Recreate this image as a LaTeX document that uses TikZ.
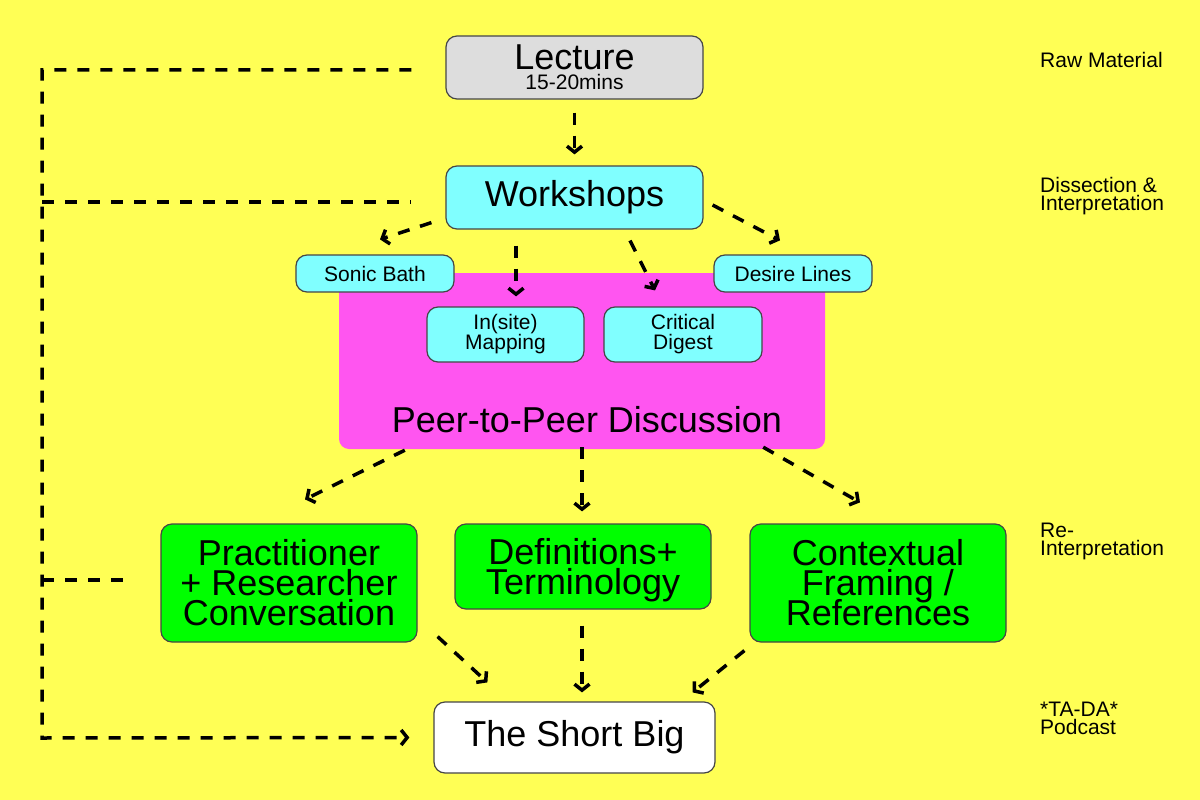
\documentclass[tikz,border=0pt]{standalone}
\usepackage{fontspec}
\setmainfont{Liberation Sans}
\usetikzlibrary{arrows.meta}

\definecolor{bgyellow}{RGB}{255,255,85}
\definecolor{boxgray}{RGB}{221,221,221}
\definecolor{boxcyan}{RGB}{128,255,255}
\definecolor{boxpink}{RGB}{255,85,240}
\definecolor{boxgreen}{RGB}{0,255,0}
\definecolor{edgegray}{RGB}{70,70,70}

% font size + tight line spacing
\newcommand{\fsz}[2]{\fontsize{#1}{#2}\selectfont\lineskiplimit=-100pt}

\begin{document}
\begin{tikzpicture}[x=1pt,y=-1pt,
  box/.style={draw=edgegray, line width=1.2pt, rounded corners=11pt, inner sep=0pt, align=center},
  big/.style={box, font=\fsz{36}{30}},
  small/.style={box, fill=boxcyan, font=\fsz{21}{20}, minimum height=37pt},
  dline/.style={line width=3.5pt, dash pattern=on 12pt off 11pt},
  flow/.style={dline, -{Straight Barb[length=6pt,width=15pt]}},
  side/.style={anchor=north west, inner sep=0pt, align=left, font=\fsz{21}{18}}]

  \fill[bgyellow] (0,0) rectangle (1200,800);
  \useasboundingbox (0,0) rectangle (1200,800);

  % discussion area
  \node (peer) [fill=boxpink, rounded corners=10pt, minimum width=486pt, minimum height=176pt] at (582,361) {};
  \node (peerlbl) [anchor=base, font=\fsz{36}{30}] at (587,432) {Peer-to-Peer Discussion};

  \node (lecture) [big, fill=boxgray, font=\fsz{36}{20}, minimum width=257pt, minimum height=63pt] at (574.5,67.5) {Lecture\\{\fsz{21}{20}15-20mins}};
  \node (workshops) [big, fill=boxcyan, minimum width=257pt, minimum height=63pt] at (574.5,197.5) {Workshops};

  \node (sonic) [small, minimum width=158pt] at (375,273.5) {Sonic Bath};
  \node (desire) [small, minimum width=158pt] at (793,273.5) {Desire Lines};
  \node (insite) [small, minimum width=157pt, minimum height=55pt] at (505.5,334.5) {In(site)\\Mapping};
  \node (critical) [small, minimum width=158pt, minimum height=55pt] at (683,334.5) {Critical\\Digest};

  \node (practitioner) [big, fill=boxgreen, minimum width=256pt, minimum height=118pt] at (289,583) {Practitioner\\+ Researcher\\Conversation};
  \node (definitions) [big, fill=boxgreen, minimum width=256pt, minimum height=85pt] at (583,566.5) {\rule{0pt}{34pt}Definitions+\\Terminology};
  \node (contextual) [big, fill=boxgreen, minimum width=256pt, minimum height=118pt] at (878,583) {Contextual\\Framing /\\References};

  \node (shortbig) [big, fill=white, minimum width=281pt, minimum height=71pt] at (574.5,737.5) {The Short Big};

  % stage labels
  \node (raw) [side] at (1040,52) {Raw Material};
  \node (dissect) [side] at (1040,177) {Dissection \&\\Interpretation};
  \node (reint) [side] at (1040,523) {Re-\\Interpretation};
  \node (podcast) [side] at (1040,702) {*TA-DA*\\Podcast};

  % arrows
  \draw[flow, shorten <=13pt, shorten >=11pt] (lecture) -- (workshops);
  \draw[flow] ([shift={(-14,-7)}]workshops.south west) -- ([shift={(5,-15)}]sonic.north);
  \draw[flow] ([shift={(-58.5,16)}]workshops.south) -- ([shift={(10.5,-10)}]insite.north);
  \draw[flow] ([shift={(55.5,11)}]workshops.south) -- ([shift={(-28,-16)}]critical.north);
  \draw[flow] ([shift={(9,7.5)}]workshops.east) -- ([shift={(-13,-14)}]desire.north);

  \draw[flow] ([shift={(66,1)}]peer.south west) -- ([shift={(16,-24)}]practitioner.north);
  \draw[flow] ([shift={(0,-2)}]peer.south) -- ([shift={(-1,-12)}]definitions.north);
  \draw[flow] ([shift={(-62,-2)}]peer.south east) -- ([shift={(-18,-21)}]contextual.north);

  \draw[flow] ([shift={(20,-6)}]practitioner.south east) -- ([shift={(54,-19)}]shortbig.north west);
  \draw[flow] ([shift={(-1,16)}]definitions.south) -- ([shift={(7.5,-9)}]shortbig.north);
  \draw[flow] ([shift={(-5,8)}]contextual.south west) -- ([shift={(-23,-9)}]shortbig.north east);

  % feedback loop on the left
  \coordinate (loop) at (42,738);
  \coordinate (wkin) at ([shift={(-34,4.5)}]workshops.west);
  \coordinate (prin) at ([shift={(-33,-3)}]practitioner.west);
  \draw[flow] ([shift={(-34,2.5)}]lecture.west) -| (loop) -- ([xshift=-24pt]shortbig.west);
  \draw[dline] (wkin -| loop) -- (wkin);
  \draw[dline] (prin -| loop) -- (prin);
\end{tikzpicture}
\end{document}
